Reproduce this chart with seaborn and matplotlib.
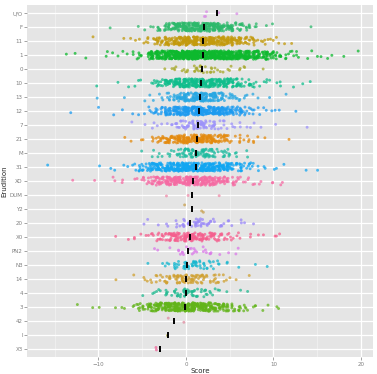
import numpy as np
import pandas as pd
import matplotlib
matplotlib.use("Agg")
import matplotlib.pyplot as plt
import seaborn as sns

# ------------------------------------------------------------------
# data (top row first)
# ------------------------------------------------------------------
categories = ["U/O", "F", "11", "1", "0", "10", "13", "12", "7", "21",
              "M", "31", "XO", "DUM", "Y2", "20", "X0", "PN2", "N3", "14",
              "4", "3", "42", "I", "X3"]

colours = ["#D98CE6", "#2DB96B", "#C39A0C", "#0DB92E", "#A6A82A",
           "#0FBE8C", "#27A7E2", "#1C9BF0", "#9C92FA", "#E38A0E",
           "#1DBB9F", "#12A6F2", "#F56BA3", "#F08AA8", "#C8A050",
           "#9A88F8", "#F55F8E", "#DA7AE8", "#16B7CF", "#D0A030",
           "#20BA90", "#62B41A", "#E08CA0", "#A8A030", "#F0649A"]

# black bar per row (median score)
centres = [3.5, 2.06, 1.9, 1.9, 1.8, 1.7, 1.6, 1.5, 1.4, 1.3, 1.2, 1.1,
           0.84, 0.65, 0.65, 0.5, 0.5, 0.27, 0.08, 0.0, 0.0, -0.1,
           -1.4, -2.1, -3.0]

# first integer score bin of each row
bin_start = [2, -9, -11, -14, -2, -10, -10, -13, -6, -7, -5, -16,
             -13, -2, 0, -5, -8, -4, -4, -8, -5, -12, -2, -2, -3]

# number of respondents per integer score bin, per row
bin_counts = [
    [3, 0, 1, 0, 1],
    [1, 0, 0, 0, 2, 2, 6, 18, 30, 40, 44, 44, 40, 34, 24, 12, 8, 3, 1, 1, 0, 0, 0, 1],
    [1, 0, 0, 0, 1, 2, 3, 6, 14, 22, 32, 40, 42, 42, 40, 36, 30, 20, 12, 8, 5, 3, 2, 1],
    [1, 1, 0, 1, 0, 2, 2, 2, 3, 5, 24, 36, 50, 62, 70, 75, 75, 70, 65, 58, 50, 42,
     32, 22, 14, 8, 4, 3, 2, 2, 1, 1, 1, 0, 1],
    [2, 3, 5, 7, 8, 6, 3, 3, 2, 2, 0, 1],
    [1, 0, 1, 1, 1, 2, 3, 10, 22, 32, 40, 42, 42, 40, 34, 26, 16, 9, 5, 3, 2, 2, 1, 1, 1],
    [1, 0, 0, 1, 0, 1, 2, 3, 6, 18, 28, 34, 34, 28, 16, 8, 5, 3, 2, 0, 1, 1],
    [1, 0, 0, 1, 0, 1, 1, 1, 2, 5, 10, 22, 34, 42, 44, 44, 40, 34, 26, 16, 8, 5, 2, 2,
     1, 0, 1],
    [1, 1, 2, 2, 3, 8, 14, 18, 18, 12, 6, 3, 3, 2, 1, 1, 1, 0, 0, 0, 1],
    [1, 1, 2, 3, 10, 20, 28, 34, 36, 34, 28, 18, 8, 5, 4, 3, 1, 0, 0, 1],
    [1, 2, 3, 4, 8, 16, 20, 20, 14, 8, 5, 3, 2],
    [1, 0, 0, 0, 0, 0, 1, 1, 1, 2, 3, 12, 20, 28, 36, 42, 46, 46, 44, 40, 32, 24, 14,
     8, 4, 2, 2, 1, 0, 0, 1, 1],
    [1, 0, 0, 1, 0, 2, 2, 2, 4, 12, 24, 32, 38, 40, 40, 36, 30, 20, 12, 6, 4, 3, 1,
     2, 2],
    [1, 0, 1, 0, 0, 0, 1],
    [1, 0, 2],
    [1, 1, 1, 2, 4, 10, 12, 10, 6, 4, 3, 2, 1, 1],
    [1, 1, 2, 2, 4, 10, 16, 24, 26, 26, 22, 16, 10, 6, 3, 2, 1, 1, 2, 1],
    [1, 1, 1, 3, 5, 6, 4, 3, 1, 1, 2],
    [1, 1, 3, 8, 12, 12, 10, 5, 3, 2, 1, 0, 1, 1],
    [1, 0, 1, 2, 3, 6, 10, 16, 18, 18, 12, 8, 5, 2, 1, 1],
    [1, 2, 3, 6, 10, 12, 12, 8, 4, 2, 1, 1, 1],
    [1, 1, 1, 0, 1, 2, 3, 10, 20, 30, 40, 46, 48, 48, 42, 34, 22, 14, 8, 5, 3, 2, 1, 1],
    [1, 0, 1],
    [1],
    [2],
]

# ------------------------------------------------------------------
# long table: one row per respondent
# ------------------------------------------------------------------
rows = []
for cat, start, counts in zip(categories, bin_start, bin_counts):
    for k, n in enumerate(counts):
        rows += [(cat, start + k)] * n
df = pd.DataFrame(rows, columns=["Erudition", "bin"])

# horizontal jitter inside each integer bin, like geom_jitter
rng = np.random.default_rng(7)
df["Score"] = df["bin"] + rng.uniform(-0.45, 0.45, len(df))

centre_df = pd.DataFrame({"Erudition": categories, "Score": centres})

# ------------------------------------------------------------------
# style
# ------------------------------------------------------------------
sns.set_theme(style="darkgrid", rc={
    "axes.facecolor": "#E5E5E5",
    "grid.color": "white",
    "axes.edgecolor": "#E5E5E5",
})
plt.rcParams["font.family"] = ["DejaVu Sans"]

fig, ax = plt.subplots(figsize=(3.77, 3.74), dpi=100)
fig.subplots_adjust(left=0.0716, right=0.989, top=0.9877, bottom=0.0444)

sns.stripplot(
    data=df, x="Score", y="Erudition", hue="Erudition",
    order=categories, hue_order=categories, palette=colours,
    orient="h", jitter=0.3, size=2.1, alpha=0.75, linewidth=0,
    legend=False, ax=ax, zorder=3,
)
sns.stripplot(
    data=centre_df, x="Score", y="Erudition", order=categories,
    orient="h", jitter=False, marker="|", color="black",
    size=5, linewidth=1.4, ax=ax, zorder=4,
)

ax.set_xlim(-18.17, 21.37)
ax.set_ylim(24.6, -0.6)
ax.set_xticks([-10, 0, 10, 20])
ax.set_xticks([-15, -5, 5, 15], minor=True)
ax.set_yticks(range(len(categories)))
ax.set_yticklabels(categories)

ax.grid(True, which="major", axis="both", color="white", linewidth=0.9, zorder=0)
ax.grid(True, which="minor", axis="x", color="#F2F2F2", linewidth=0.5, zorder=0)
ax.set_axisbelow(True)
for s in ax.spines.values():
    s.set_visible(False)

ax.tick_params(axis="both", which="major", labelsize=4, labelcolor="#7F7F7F",
               color="#7F7F7F", length=2, width=0.5, pad=1, left=True, bottom=True)
ax.tick_params(axis="both", which="minor", length=0)
ax.set_xlabel("Score", fontsize=5, labelpad=1)
ax.set_ylabel("Erudition", fontsize=5, labelpad=2)

fig.savefig("out.png", dpi=100)
